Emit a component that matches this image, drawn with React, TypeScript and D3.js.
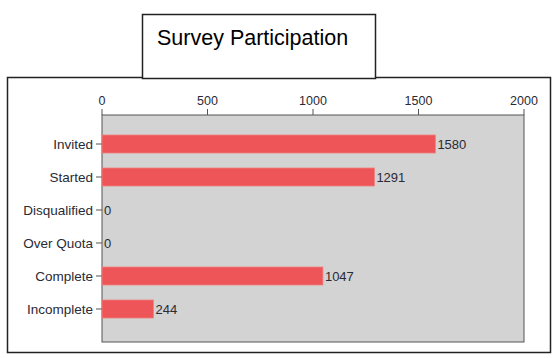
import React from "react";
import * as d3 from "d3";

const categories = ["Invited", "Started", "Disqualified", "Over Quota", "Complete", "Incomplete"];
const values = [1580, 1291, 0, 0, 1047, 244];
const xTicks = [0, 500, 1000, 1500, 2000];
const title = "Survey Participation";

export default function App() {
  const W = 556, H = 358;
  const plot = { x0: 102, x1: 524, y0: 115, y1: 342 };
  const x = d3.scaleLinear().domain([0, 2000]).range([plot.x0, plot.x1]);
  const y = d3.scaleBand<string>().domain(categories).range([127.5, 325.5]).paddingInner(0.4545).paddingOuter(0.2273);
  const font = "Liberation Sans, Arial, sans-serif";
  const txt = "#2a2a35";
  return (
    <svg width={W} height={H} style={{ position: "absolute", left: 0, top: 0 }}>
      <rect x={0} y={0} width={W} height={H} fill="#fff" />
      <rect x={7.5} y={77.5} width={543} height={275} fill="#fff" stroke="#222" strokeWidth={1.5} />
      <rect x={142.5} y={14.5} width={233} height={64} fill="#fff" stroke="#222" strokeWidth={1.5} />
      <text x={157} y={45} fontFamily={font} fontSize={21.5} fill="#000">{title}</text>
      <rect x={plot.x0} y={plot.y0} width={plot.x1 - plot.x0} height={plot.y1 - plot.y0} fill="#d3d3d3" stroke="#555" strokeWidth={1} />
      {xTicks.map((t) => (
        <g key={t}>
          <line x1={x(t)} x2={x(t)} y1={plot.y0} y2={plot.y0 - 6} stroke="#555" />
          <text x={x(t)} y={105} textAnchor="middle" fontFamily={font} fontSize={12.5} fill={txt}>{t}</text>
        </g>
      ))}
      {categories.map((c, i) => {
        const yc = (y(c) as number) + y.bandwidth() / 2;
        return (
          <g key={c}>
            <line x1={plot.x0 - 6} x2={plot.x0} y1={yc} y2={yc} stroke="#555" />
            <text x={plot.x0 - 9} y={yc + 5} textAnchor="end" fontFamily={font} fontSize={13.5} fill={txt}>{c}</text>
            {values[i] > 0 && (
              <rect x={x(0)} y={y(c)} width={x(values[i]) - x(0)} height={y.bandwidth()} fill="#ee5558" stroke="#f08080" strokeWidth={0.8} />
            )}
            <text x={x(values[i]) + 2} y={yc + 5} fontFamily={font} fontSize={13} fill={txt}>{values[i]}</text>
          </g>
        );
      })}
    </svg>
  );
}
